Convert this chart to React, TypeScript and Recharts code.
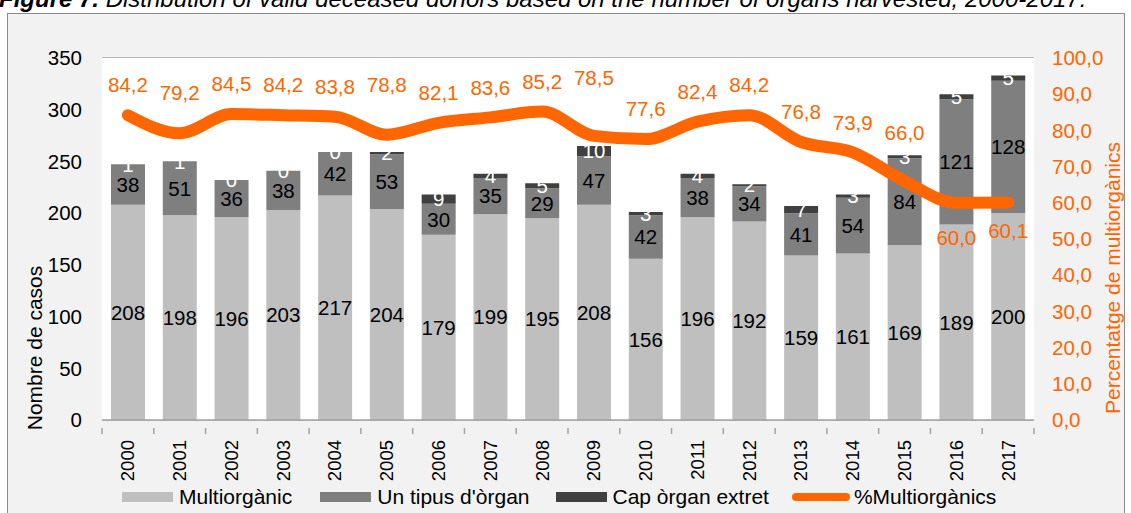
import React from 'react';
import {
  ComposedChart, Bar, Line, XAxis, YAxis, CartesianGrid, LabelList, Label,
} from 'recharts';

const years = ['2000','2001','2002','2003','2004','2005','2006','2007','2008','2009','2010','2011','2012','2013','2014','2015','2016','2017'];
const multiorganic = [208,198,196,203,217,204,179,199,195,208,156,196,192,159,161,169,189,200];
const unTipus = [38,51,36,38,42,53,30,35,29,47,42,38,34,41,54,84,121,128];
const capOrgan = [1,1,0,0,0,2,9,4,5,10,3,4,2,7,3,3,5,5];
const pctMulti = [84.2,79.2,84.5,84.2,83.8,78.8,82.1,83.6,85.2,78.5,77.6,82.4,84.2,76.8,73.9,66.0,60.0,60.1];
const leftTicks = [0,50,100,150,200,250,300,350];
const rightTicks = [0,10,20,30,40,50,60,70,80,90,100];
const seriesNames = ['Multiorgànic', "Un tipus d'òrgan", 'Cap òrgan extret', '%Multiorgànics'];
// vertical offset of each percentage label relative to its point (style)
const pctLabelDy = [-30,-40,-30,-30,-30,-50,-30,-30,-30,-58,-30,-30,-30,-30,-30,-48,35,28];

const data = years.map((y, i) => ({
  year: y,
  multi: multiorganic[i],
  un: unTipus[i],
  cap: capOrgan[i],
  pct: pctMulti[i],
}));

const W = 1131;
const H = 513;
const LEFT = 102;
const RIGHT_W = 97;
const TOP = 58;
const XAXIS_H = 93;
const BAND = (W - LEFT - RIGHT_W) / years.length;
const FONT = "'Liberation Sans', Arial, sans-serif";
const ORANGE = '#ff6600';
const C_MULTI = '#bfbfbf';
const C_UN = '#7f7f7f';
const C_CAP = '#404040';
const GRID = '#a3a3a3';

const fmt = (v: number) => v.toFixed(1).replace('.', ',');

const XTick = (props: any) => {
  const { x, y, payload, index } = props;
  const half = BAND / 2;
  return (
    <g>
      <line x1={x - half} x2={x - half} y1={y} y2={y + 6} stroke={GRID} strokeWidth={1.5} />
      {index === years.length - 1 && (
        <line x1={x + half} x2={x + half} y1={y} y2={y + 6} stroke={GRID} strokeWidth={1.5} />
      )}
      <text
        x={x}
        y={y + 12}
        transform={`rotate(-90 ${x} ${y + 12})`}
        textAnchor="end"
        dy="0.35em"
        fontSize={18.5}
        fontFamily={FONT}
        fill="#000"
      >
        {payload.value}
      </text>
    </g>
  );
};

const PctLabel = (props: any) => {
  const { x, y, value, index } = props;
  return (
    <text
      x={x}
      y={y + pctLabelDy[index]}
      textAnchor="middle"
      dy="0.35em"
      fontSize={20.5}
      fontFamily={FONT}
      fill={ORANGE}
    >
      {fmt(value)}
    </text>
  );
};

// Label of the "Cap òrgan extret" segment, drawn from the "Un tipus" segment below it
// (every "Un tipus" value is non-zero, so zero-valued top segments still get their label)
const CapLabel = (props: any) => {
  const { x, y, width, height, index } = props;
  const cap = capOrgan[index];
  const un = unTipus[index];
  const h = Math.abs(Number(height) || 0);
  const capH = un > 0 ? (h * cap) / un : 0;
  const top = Math.min(Number(y), Number(y) + Number(height));
  const cy = top - capH / 2;
  return (
    <text
      x={Number(x) + Number(width) / 2}
      y={cy}
      textAnchor="middle"
      dy="0.35em"
      fontSize={20.5}
      fontFamily={FONT}
      fill="#fff"
    >
      {cap}
    </text>
  );
};

const legendColors = [C_MULTI, C_UN, C_CAP, ORANGE];

export default function App() {
  return (
    <div style={{ position: 'fixed', left: 0, top: 0, width: W, height: H, overflow: 'hidden', background: '#fff', fontFamily: FONT }}>
      <div style={{ position: 'absolute', left: -1, top: -13, fontSize: 24, lineHeight: '24px', fontStyle: 'italic', whiteSpace: 'nowrap', color: '#000' }}>
        <b>Figure 7.</b> Distribution of valid deceased donors based on the number of organs harvested, 2000-2017.
      </div>
      <div style={{ position: 'absolute', left: 7, top: 13, width: 1116, height: 520, border: '1.5px solid #8a8a8a', background: '#f2f2f2' }} />
      <div style={{ position: 'absolute', left: 0, top: 0 }}>
        <ComposedChart
          width={W}
          height={H}
          data={data}
          margin={{ top: TOP, right: 0, bottom: H - TOP - 362 - XAXIS_H, left: 0 }}
          barSize={34}
        >
          <rect x={LEFT} y={TOP} width={W - LEFT - RIGHT_W} height={362} fill="#fff" />
          <CartesianGrid vertical={false} stroke={GRID} strokeWidth={1.5} yAxisId="left" />
          <XAxis
            dataKey="year"
            height={XAXIS_H}
            tickLine={false}
            axisLine={{ stroke: GRID, strokeWidth: 1.5 }}
            tick={<XTick />}
            interval={0}
          />
          <YAxis
            yAxisId="left"
            width={LEFT}
            domain={[0, 350]}
            ticks={leftTicks}
            axisLine={false}
            tickLine={false}
            tickSize={0}
            tickMargin={20}
            tick={{ fontSize: 20.5, fill: '#000', fontFamily: FONT }}
          >
            <Label
              content={() => (
                <text x={35} y={348} transform="rotate(-90 35 348)" textAnchor="middle" dy="0.35em" fontSize={21} fontFamily={FONT} fill="#000">
                  Nombre de casos
                </text>
              )}
            />
          </YAxis>
          <YAxis
            yAxisId="right"
            orientation="right"
            width={RIGHT_W}
            domain={[0, 100]}
            ticks={rightTicks}
            axisLine={false}
            tickLine={false}
            tickSize={0}
            tickMargin={18}
            tickFormatter={fmt}
            tick={{ fontSize: 20.5, fill: ORANGE, fontFamily: FONT }}
          >
            <Label
              content={() => (
                <text x={1113} y={278} transform="rotate(-90 1113 278)" textAnchor="middle" dy="0.35em" fontSize={21} fontFamily={FONT} fill={ORANGE}>
                  Percentatge de multiorgànics
                </text>
              )}
            />
          </YAxis>
          <Bar dataKey="multi" stackId="a" yAxisId="left" fill={C_MULTI} isAnimationActive={false} name={seriesNames[0]}>
            <LabelList dataKey="multi" position="center" fill="#000" fontSize={20.5} fontFamily={FONT} />
          </Bar>
          <Bar dataKey="un" stackId="a" yAxisId="left" fill={C_UN} isAnimationActive={false} name={seriesNames[1]}>
            <LabelList dataKey="un" position="center" fill="#000" fontSize={20.5} fontFamily={FONT} />
            <LabelList dataKey="cap" content={<CapLabel />} />
          </Bar>
          <Bar dataKey="cap" stackId="a" yAxisId="left" fill={C_CAP} isAnimationActive={false} name={seriesNames[2]} />
          <Line
            dataKey="pct"
            yAxisId="right"
            type="monotone"
            stroke={ORANGE}
            strokeWidth={12}
            strokeLinecap="round"
            dot={false}
            activeDot={false}
            isAnimationActive={false}
            name={seriesNames[3]}
          >
            <LabelList dataKey="pct" content={<PctLabel />} />
          </Line>
        </ComposedChart>
      </div>
      <div style={{ position: 'absolute', left: 122, top: 485, height: 24, lineHeight: '24px', display: 'flex', alignItems: 'center', fontSize: 21, color: '#000', whiteSpace: 'nowrap' }}>
        {seriesNames.map((n, i) => (
          <div key={n} style={{ display: 'flex', alignItems: 'center', marginRight: i === 0 ? 28 : i === 1 ? 26 : 23 }}>
            {i < 3 ? (
              <div style={{ width: 51, height: 10, background: legendColors[i], marginRight: 6 }} />
            ) : (
              <div style={{ width: 58, height: 8, borderRadius: 4, background: legendColors[i], marginRight: 4 }} />
            )}
            <span>{n}</span>
          </div>
        ))}
      </div>
    </div>
  );
}
